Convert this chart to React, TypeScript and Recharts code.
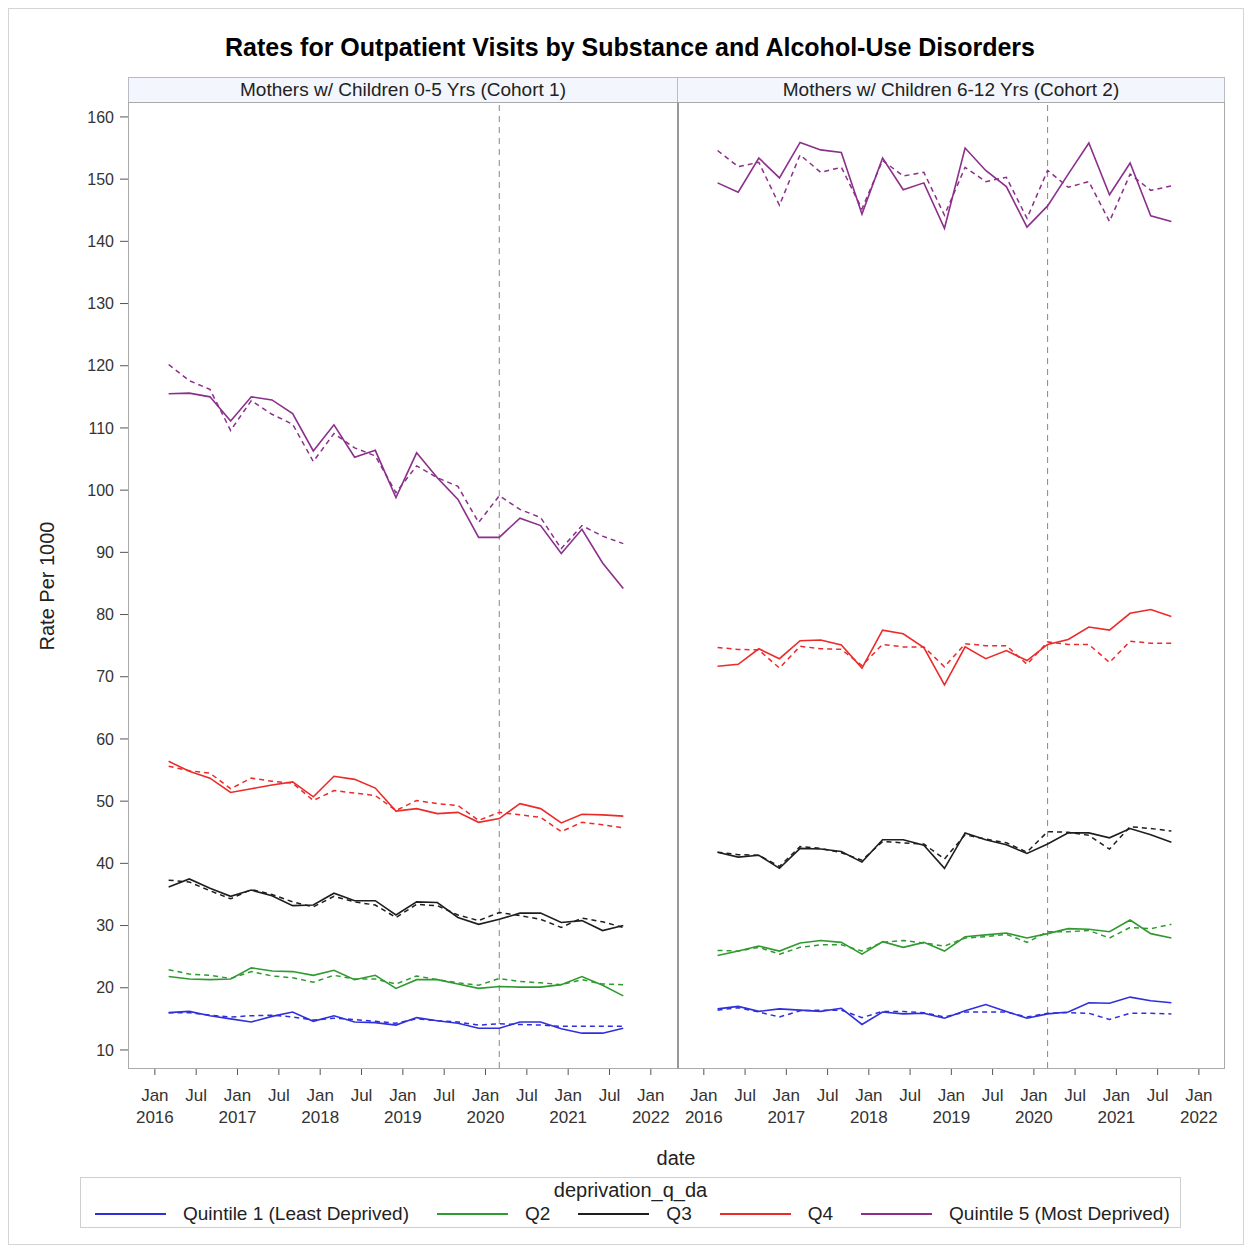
import { CartesianGrid, Line, LineChart, ReferenceLine, XAxis, YAxis } from 'recharts';

const font = '"Liberation Sans", Arial, sans-serif';

// quarter points, Mar 2016 .. Sep 2021
const dates = [
  '2016-03', '2016-06', '2016-09', '2016-12',
  '2017-03', '2017-06', '2017-09', '2017-12',
  '2018-03', '2018-06', '2018-09', '2018-12',
  '2019-03', '2019-06', '2019-09', '2019-12',
  '2020-03', '2020-06', '2020-09', '2020-12',
  '2021-03', '2021-06', '2021-09',
];
const cutoffDate = '2020-03';
const xTicks = [0, 6, 12, 18, 24, 30, 36, 42, 48, 54, 60, 66, 72];
const yTicks = [10, 20, 30, 40, 50, 60, 70, 80, 90, 100, 110, 120, 130, 140, 150, 160];

// Cohort 1 (children 0-5)
const c1Q1 = [16.0, 16.2, 15.5, 15.0, 14.5, 15.4, 16.1, 14.6, 15.5, 14.5, 14.4, 14.0, 15.2, 14.7, 14.3, 13.5, 13.5, 14.5, 14.5, 13.4, 12.7, 12.7, 13.5];
const c1Q1Dash = [16.0, 16.0, 15.6, 15.3, 15.5, 15.6, 15.3, 14.8, 15.1, 14.9, 14.6, 14.3, 15.0, 14.7, 14.5, 14.0, 14.2, 14.1, 14.0, 13.8, 13.8, 13.8, 13.8];
const c1Q2 = [21.8, 21.4, 21.3, 21.4, 23.2, 22.7, 22.6, 22.0, 22.8, 21.3, 22.0, 19.9, 21.3, 21.3, 20.6, 19.9, 20.2, 20.1, 20.1, 20.5, 21.8, 20.4, 18.7];
const c1Q2Dash = [22.9, 22.2, 22.0, 21.5, 22.6, 21.9, 21.6, 20.9, 22.0, 21.4, 21.4, 20.6, 21.9, 21.3, 20.8, 20.4, 21.5, 21.0, 20.8, 20.5, 21.3, 20.6, 20.5];
const c1Q3 = [36.2, 37.5, 36.0, 34.7, 35.7, 34.8, 33.2, 33.3, 35.2, 34.0, 34.0, 31.7, 33.8, 33.7, 31.3, 30.2, 31.0, 32.0, 32.0, 30.5, 30.8, 29.2, 30.0];
const c1Q3Dash = [37.3, 37.0, 35.6, 34.3, 35.8, 35.0, 33.8, 33.0, 34.7, 33.8, 33.3, 31.3, 33.4, 33.2, 31.7, 30.8, 32.1, 31.6, 31.0, 29.7, 31.2, 30.6, 29.7];
const c1Q4 = [56.4, 54.8, 53.7, 51.4, 52.0, 52.6, 53.1, 50.7, 54.0, 53.5, 52.1, 48.4, 48.8, 48.0, 48.2, 46.6, 47.2, 49.6, 48.8, 46.5, 47.9, 47.8, 47.6];
const c1Q4Dash = [55.6, 54.9, 54.5, 52.0, 53.7, 53.2, 52.9, 50.1, 51.7, 51.3, 50.9, 48.5, 50.1, 49.6, 49.3, 46.9, 48.2, 47.8, 47.4, 45.1, 46.6, 46.2, 45.7];
const c1Q5 = [115.5, 115.6, 115.0, 111.1, 115.0, 114.5, 112.3, 106.3, 110.5, 105.3, 106.4, 98.8, 106.0, 102.0, 98.5, 92.4, 92.4, 95.5, 94.3, 89.8, 93.7, 88.3, 84.2];
const c1Q5Dash = [120.2, 117.6, 116.2, 109.6, 114.4, 112.2, 110.6, 104.6, 109.1, 106.8, 105.5, 99.6, 103.9, 102.0, 100.6, 94.8, 99.1, 96.9, 95.6, 90.6, 94.3, 92.6, 91.4];

// Cohort 2 (children 6-12)
const c2Q1 = [16.6, 17.0, 16.2, 16.6, 16.4, 16.2, 16.7, 14.1, 16.1, 15.8, 15.9, 15.1, 16.3, 17.3, 16.2, 15.1, 15.8, 16.1, 17.6, 17.5, 18.5, 17.9, 17.6];
const c2Q1Dash = [16.4, 16.8, 16.1, 15.3, 16.3, 16.4, 16.4, 15.2, 16.2, 16.2, 16.0, 15.3, 16.1, 16.1, 16.1, 15.3, 15.9, 16.0, 15.9, 14.9, 15.9, 15.9, 15.8];
const c2Q2 = [25.2, 25.9, 26.7, 25.9, 27.2, 27.6, 27.3, 25.4, 27.4, 26.5, 27.3, 25.9, 28.2, 28.5, 28.8, 28.0, 28.7, 29.5, 29.4, 29.0, 30.9, 28.7, 28.0];
const c2Q2Dash = [26.0, 25.9, 26.5, 25.4, 26.5, 26.9, 26.9, 25.9, 27.3, 27.6, 27.2, 26.7, 28.0, 28.2, 28.6, 27.3, 29.0, 29.0, 29.2, 28.0, 29.7, 29.5, 30.2];
const c2Q3 = [41.8, 41.0, 41.3, 39.2, 42.4, 42.3, 41.9, 40.2, 43.8, 43.8, 42.9, 39.2, 44.9, 43.8, 43.0, 41.6, 43.1, 44.9, 44.9, 44.1, 45.6, 44.6, 43.4];
const c2Q3Dash = [41.8, 41.4, 41.3, 39.5, 42.7, 42.4, 41.7, 40.5, 43.5, 43.3, 43.1, 40.7, 44.6, 43.9, 43.3, 41.8, 45.1, 45.0, 44.5, 42.3, 45.9, 45.6, 45.2];
const c2Q4 = [71.7, 72.0, 74.5, 72.9, 75.8, 75.9, 75.1, 71.4, 77.5, 76.9, 74.7, 68.7, 74.8, 72.9, 74.2, 72.6, 75.2, 76.0, 78.0, 77.5, 80.2, 80.8, 79.7];
const c2Q4Dash = [74.7, 74.4, 74.3, 71.4, 74.9, 74.5, 74.4, 71.8, 75.2, 74.8, 74.8, 71.6, 75.3, 75.0, 75.0, 72.0, 75.6, 75.2, 75.2, 72.3, 75.7, 75.4, 75.4];
const c2Q5 = [149.4, 147.9, 153.4, 150.2, 155.9, 154.7, 154.3, 144.4, 153.4, 148.3, 149.4, 142.1, 155.0, 151.4, 148.8, 142.3, 145.7, 150.8, 155.8, 147.5, 152.6, 144.1, 143.2];
const c2Q5Dash = [154.6, 152.0, 152.7, 145.8, 153.9, 151.1, 151.9, 145.2, 153.0, 150.5, 151.1, 144.2, 151.9, 149.6, 150.3, 143.7, 151.4, 148.7, 149.6, 143.2, 150.8, 148.2, 148.9];

const quintiles = [
  { key: 'q1', label: 'Quintile 1 (Least Deprived)', color: '#2f2fdc' },
  { key: 'q2', label: 'Q2', color: '#2f9a2f' },
  { key: 'q3', label: 'Q3', color: '#1e1e1e' },
  { key: 'q4', label: 'Q4', color: '#ec2a2a' },
  { key: 'q5', label: 'Quintile 5 (Most Deprived)', color: '#8b2f8b' },
];

const toMonth = (d: string) => {
  const [y, m] = d.split('-').map(Number);
  return (y - 2016) * 12 + (m - 1);
};

const buildRows = (solid: number[][], dashed: number[][]) =>
  dates.map((d, i) => {
    const row: Record<string, number> = { x: toMonth(d) };
    quintiles.forEach((q, j) => {
      row[q.key] = solid[j][i];
      row[q.key + 'd'] = dashed[j][i];
    });
    return row;
  });

const cohort1 = buildRows([c1Q1, c1Q2, c1Q3, c1Q4, c1Q5], [c1Q1Dash, c1Q2Dash, c1Q3Dash, c1Q4Dash, c1Q5Dash]);
const cohort2 = buildRows([c2Q1, c2Q2, c2Q3, c2Q4, c2Q5], [c2Q1Dash, c2Q2Dash, c2Q3Dash, c2Q4Dash, c2Q5Dash]);

const xDomain = [-3.9, 75.8];
const yDomain = [7.1, 162.4];
const tickStyle = { fontSize: 16, fill: '#333', fontFamily: font };
const xTickStyle = { fontSize: 17, fill: '#333', fontFamily: font };

function DateTick({ x, y, payload }: any) {
  const m = payload.value;
  const isJan = m % 12 === 0;
  return (
    <g transform={`translate(${x},${y})`}>
      <text textAnchor="middle" y={24} style={xTickStyle}>{isJan ? 'Jan' : 'Jul'}</text>
      {isJan && <text textAnchor="middle" y={46} style={xTickStyle}>{2016 + m / 12}</text>}
    </g>
  );
}

function Panel({ data, showY, left, width }: { data: Record<string, number>[]; showY: boolean; left: number; width: number }) {
  return (
    <div style={{ position: 'absolute', left, top: 102 }}>
      <LineChart width={width} height={1026} data={data} margin={{ top: 0, right: 0, left: 0, bottom: 0 }}>
        <CartesianGrid stroke="none" />
        <XAxis
          type="number"
          dataKey="x"
          domain={xDomain}
          allowDataOverflow
          ticks={xTicks}
          interval={0}
          height={60}
          axisLine={false}
          tickLine={{ stroke: '#555' }}
          tickSize={7}
          tick={<DateTick />}
        />
        <YAxis
          hide={!showY}
          width={70}
          domain={yDomain}
          allowDataOverflow
          ticks={yTicks}
          interval={0}
          axisLine={false}
          tickLine={{ stroke: '#555' }}
          tickSize={8}
          tickMargin={6}
          tick={tickStyle}
        />
        <ReferenceLine x={toMonth(cutoffDate)} stroke="#888" strokeDasharray="6 5" />
        {quintiles.map((q) => (
          <Line key={q.key + 'd'} type="linear" dataKey={q.key + 'd'} stroke={q.color} strokeWidth={1.5} strokeDasharray="5 4" dot={false} isAnimationActive={false} />
        ))}
        {quintiles.map((q) => (
          <Line key={q.key} type="linear" dataKey={q.key} stroke={q.color} strokeWidth={1.6} dot={false} isAnimationActive={false} />
        ))}
      </LineChart>
    </div>
  );
}

const headerStyle = {
  position: 'absolute' as const,
  top: 77,
  height: 26,
  background: '#f3f6fc',
  border: '1px solid #b9bcc4',
  boxSizing: 'border-box' as const,
  textAlign: 'center' as const,
  fontSize: 19,
  lineHeight: '24px',
  color: '#222',
};

export default function App() {
  return (
    <div style={{ position: 'absolute', left: 0, top: 0, width: 1251, height: 1252, background: '#fff', fontFamily: font }}>
      <div style={{ position: 'absolute', left: 8, top: 8, width: 1236, height: 1237, border: '1px solid #d4d4d4', boxSizing: 'border-box' }} />
      <div style={{ position: 'absolute', left: 0, width: 1260, top: 33, textAlign: 'center', fontSize: 25, fontWeight: 'bold', color: '#000' }}>
        Rates for Outpatient Visits by Substance and Alcohol-Use Disorders
      </div>
      <div style={{ ...headerStyle, left: 128, width: 550 }}>Mothers w/ Children 0-5 Yrs (Cohort 1)</div>
      <div style={{ ...headerStyle, left: 677, width: 548 }}>Mothers w/ Children 6-12 Yrs (Cohort 2)</div>

      <Panel data={cohort1} showY left={58} width={619} />
      <Panel data={cohort2} showY={false} left={677} width={548} />

      <div style={{ position: 'absolute', left: 128, top: 102, width: 550, height: 967, border: '1px solid #aaa', boxSizing: 'border-box', pointerEvents: 'none' }} />
      <div style={{ position: 'absolute', left: 677, top: 102, width: 548, height: 967, border: '1px solid #aaa', borderLeft: '2px solid #999', boxSizing: 'border-box', pointerEvents: 'none' }} />

      <div style={{ position: 'absolute', left: 47, top: 586, transform: 'translate(-50%, -50%) rotate(-90deg)', fontSize: 20, color: '#222', whiteSpace: 'nowrap' }}>
        Rate Per 1000
      </div>
      <div style={{ position: 'absolute', left: 676, top: 1158, transform: 'translate(-50%, -50%)', fontSize: 20, color: '#222' }}>date</div>

      <div style={{ position: 'absolute', left: 80, top: 1177, width: 1101, height: 51, border: '1px solid #cfcfcf', boxSizing: 'border-box' }}>
        <div style={{ position: 'absolute', left: 0, right: 0, top: 0, textAlign: 'center', fontSize: 20, lineHeight: '24px', color: '#222' }}>deprivation_q_da</div>
        <div style={{ position: 'absolute', left: 14, top: 24, display: 'flex', alignItems: 'center', fontSize: 19, lineHeight: '24px', color: '#222', whiteSpace: 'nowrap' }}>
          {quintiles.map((q) => (
            <div key={q.key} style={{ display: 'flex', alignItems: 'center', marginRight: 28 }}>
              <div style={{ width: 71, height: 2, background: q.color, marginRight: 17 }} />
              <span>{q.label}</span>
            </div>
          ))}
        </div>
      </div>
    </div>
  );
}
